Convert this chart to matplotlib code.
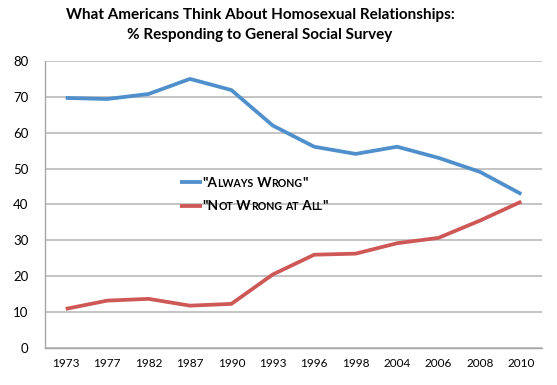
import matplotlib
matplotlib.use("Agg")
import matplotlib.pyplot as plt

# Survey years (category axis) and responses in percent
years = ['1973', '1977', '1982', '1987', '1990', '1993', '1996', '1998', '2004', '2006', '2008', '2010']
always_wrong = [69.7, 69.4, 70.8, 75.0, 71.9, 62.0, 56.1, 54.1, 56.1, 53.0, 49.1, 42.9]
not_wrong = [10.9, 13.2, 13.7, 11.8, 12.3, 20.5, 26.0, 26.3, 29.2, 30.7, 35.5, 40.8]
series_labels = ['"Always Wrong"', '"Not Wrong at All"']

blue = '#4F8FCB'
red = '#CD5856'
grid_gray = '#C4C4C4'

plt.rcParams['font.family'] = ['Lato', 'DejaVu Sans']


def small_caps_runs(s):
    runs = []
    for ch in s:
        small = ch.islower()
        if runs and runs[-1][1] == small:
            runs[-1][0] += ch.upper() if small else ch
        else:
            runs.append([ch.upper() if small else ch, small])
    return runs


fig = plt.figure(figsize=(5.57, 3.85), dpi=100)
ax = fig.add_axes([0.0808, 0.0961, 0.8923, 0.7455])

x = list(range(len(years)))
runs = [small_caps_runs(l) for l in series_labels]
ax.plot(x, always_wrong, color=blue, lw=2.7, solid_capstyle='butt', label=runs[0][0][0])
ax.plot(x, not_wrong, color=red, lw=2.7, solid_capstyle='butt', label=runs[1][0][0])

ax.set_xlim(-0.5, len(years) - 0.5)
ax.set_ylim(0, 80)
ax.set_yticks(range(0, 81, 10))
ax.set_xticks(x)
ax.set_xticklabels(years)
ax.tick_params(axis='both', length=0, labelsize=9.5, colors='black')
ax.tick_params(axis='x', pad=7, labelsize=8.5)
ax.tick_params(axis='y', pad=12)
ax.grid(axis='y', color=grid_gray, lw=1.4)
ax.set_axisbelow(True)
for s in ['top', 'right']:
    ax.spines[s].set_visible(False)
for s in ['left', 'bottom']:
    ax.spines[s].set_color('#A8A8A8')
    ax.spines[s].set_linewidth(1.0)

fig.text(0.467, 0.978, "What Americans Think About Homosexual Relationships:\n% Responding to General Social Survey",
         ha='center', va='top', fontsize=11, fontweight='bold', linespacing=1.5)

# legend: first letter in the legend text, the rest chained as small caps pieces
leg = ax.legend(loc='upper left', bbox_to_anchor=(0.247, 0.64), frameon=False,
                handlelength=1.65, handletextpad=0.0, labelspacing=0.87,
                prop={'size': 9.8, 'weight': 'bold'})

for txt, label_runs in zip(leg.get_texts(), runs):
    prev = txt
    for piece, small in label_runs[1:]:
        size = 7.6 if small else 9.8
        prev = ax.annotate(piece, xy=(1, 0), xycoords=prev, zorder=6,
                           ha='left', va='bottom', fontsize=size, fontweight='bold')

fig.savefig('out.png', dpi=100)
